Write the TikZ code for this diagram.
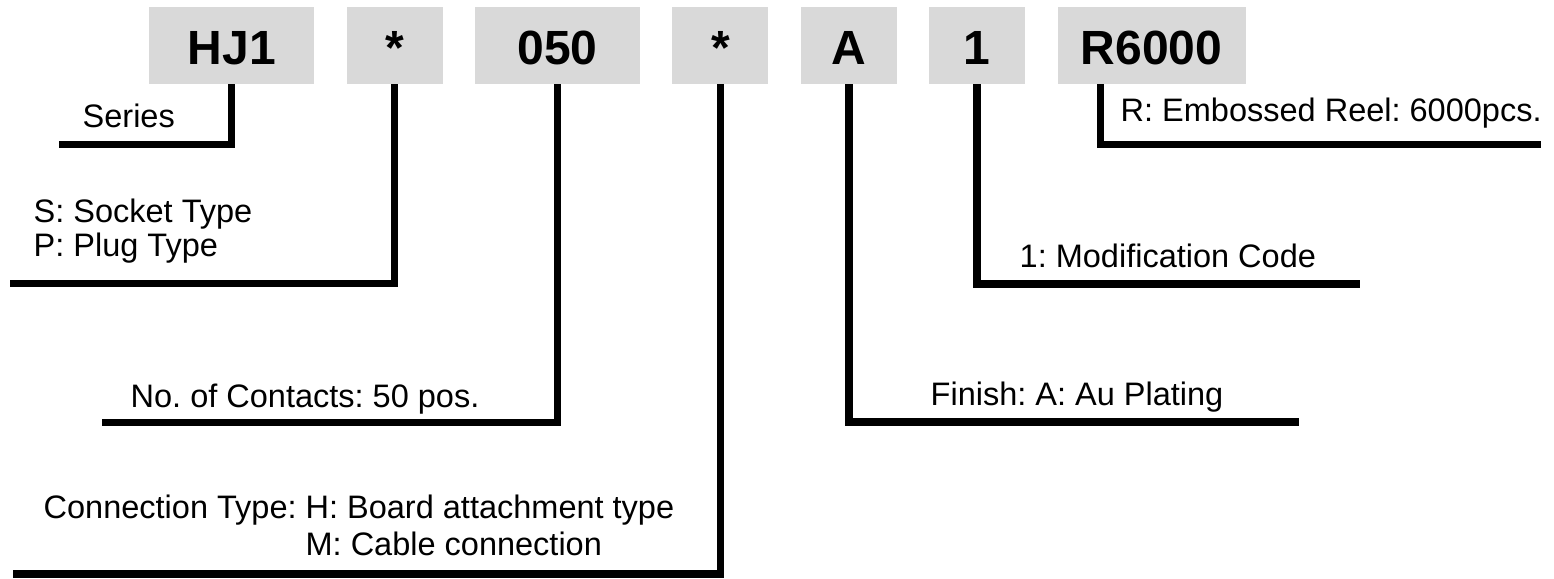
\documentclass[tikz,border=0pt]{standalone}
\usepackage{fontspec}
\setmainfont{Liberation Sans}
\usetikzlibrary{positioning}
\frenchspacing
\tikzset{
    field/.style =  {rectangle,
                    fill=black!15,
                    draw=none,
                    text=black,
                    inner sep=0pt,
                    minimum height=77pt,
                    text height=37pt,
                    text depth=0pt,
                    font=\fontsize{48}{48}\selectfont\bfseries},
    wide/.style =   {field,
                    minimum width=165pt},
    narrow/.style = {field,
                    minimum width=96pt},
    desc/.style =   {anchor=base west,
                    inner sep=0pt,
                    text=black,
                    font=\fontsize{32.5}{37}\selectfont},
    leader/.style = {draw=black,
                    line width=7.5pt},
    node distance=32pt}

\begin{document}
\begin{tikzpicture}[x=1pt,y=-1pt]
    \useasboundingbox (0,0) rectangle (1554,578);

    % part number fields
    \node[wide,anchor=north west] (hj)  at (149,7)       {HJ1};
    \node[narrow]                 (typ) [right=of hj]    {*};
    \node[wide]                   (pos) [right=of typ]   {050};
    \node[narrow]                 (con) [right=of pos]   {*};
    \node[narrow]                 (fin) [right=of con]   {A};
    \node[narrow]                 (mod) [right=of fin]   {1};
    \node[field,minimum width=188pt] (pkg) [right=of mod] {R6000};

    % free ends of the leaders
    \coordinate (serEnd) at (59,144.5);
    \coordinate (typEnd) at (10,283.5);
    \coordinate (posEnd) at (102,422.5);
    \coordinate (conEnd) at (13,574);
    \coordinate (finEnd) at (1299,422);
    \coordinate (modEnd) at (1360,284);
    \coordinate (pkgEnd) at (1541,144.5);

    % descriptions
    \node[desc] (serL) at (82.5,127)  {Series};
    \node[desc,font=\fontsize{32.5}{33.5}\selectfont] (typL) at (33.5,222.5)
        {\begin{tabular}[t]{@{}l@{}}S: Socket Type\\P: Plug Type\end{tabular}};
    \node[desc] (posL) at (130.5,407) {No. of Contacts: 50 pos.};
    \node[desc] (conL) at (43.5,518)
        {\begin{tabular}[t]{@{}l@{}}Connection Type: H: Board attachment type\\
         \hphantom{Connection Type: }M: Cable connection\end{tabular}};
    \node[desc] (finL) at (930.5,405) {Finish: A: Au Plating};
    \node[desc] (modL) at (1019.5,267) {1: Modification Code};
    \node[desc] (pkgL) at (1120.5,121) {R: Embossed Reel: 6000pcs.};

    \path [leader]  (hj.south)  |- (serEnd)
                    (typ.south) |- (typEnd)
                    (pos.south) |- (posEnd)
                    (con.south) |- (conEnd)
                    (fin.south) |- (finEnd)
                    (mod.south) |- (modEnd)
                    ([xshift=43pt]pkg.south west) |- (pkgEnd);
\end{tikzpicture}
\end{document}
